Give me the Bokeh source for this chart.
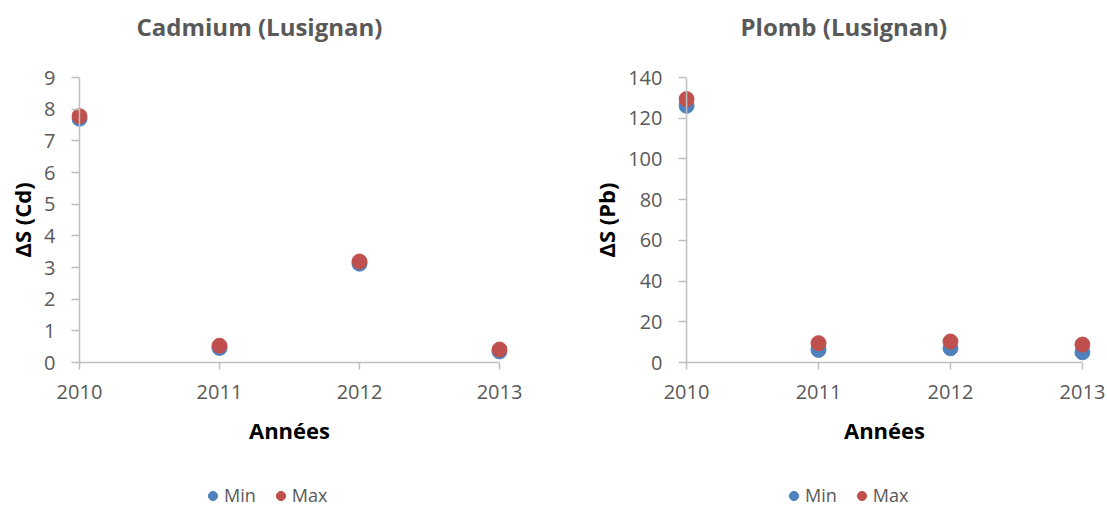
from bokeh.plotting import figure
from bokeh.models import Range1d, Legend, LegendItem, FixedTicker, Span
from bokeh.layouts import row, column
from bokeh.embed import file_html
from bokeh.resources import INLINE

# ---- data ----
years = [2010, 2011, 2012, 2013]
cd_min = [7.70, 0.46, 3.12, 0.35]
cd_max = [7.78, 0.53, 3.19, 0.41]
pb_min = [126.1, 6.2, 7.0, 5.0]
pb_max = [129.4, 9.5, 10.3, 8.8]
cd_ticks = [0, 1, 2, 3, 4, 5, 6, 7, 8, 9]
pb_ticks = [0, 20, 40, 60, 80, 100, 120, 140]
series_names = ["Min", "Max"]
titles = ["Cadmium (Lusignan)", "Plomb (Lusignan)"]
ylabels = ["ΔS (Cd)", "ΔS (Pb)"]
xlabel = "Années"

BLUE = "#4F81BD"
RED = "#C0504D"
GREY = "#595959"
AXIS = "#BFBFBF"
FONT = "Open Sans"
TITLE_H = 60
MAIN_H = 410
LEG_H = 38


def title_fig(width, text, xoff):
    q = figure(width=width, height=TITLE_H, output_backend="svg", toolbar_location=None,
               x_range=Range1d(0, 1), y_range=Range1d(0, 1), min_border=0,
               x_axis_location=None, y_axis_location=None, title=text)
    q.outline_line_color = None
    q.grid.visible = False
    t = q.title
    t.align = "left"
    t.offset = xoff
    t.standoff = 15
    t.text_font = FONT
    t.text_font_size = "24px"
    t.text_font_style = "bold"
    t.text_color = GREY
    return q


def make(ylabel, ymins, ymaxs, yticks, width, bl, br, xpad):
    p = figure(width=width, height=MAIN_H, output_backend="svg", toolbar_location=None,
               x_range=Range1d(years[0] - xpad, years[-1] + xpad),
               y_range=Range1d(yticks[0], yticks[-1]),
               min_border_left=bl, min_border_right=br,
               min_border_top=77 - TITLE_H, min_border_bottom=108)
    p.outline_line_color = None
    p.grid.visible = False

    xa = p.xaxis[0]
    xa.ticker = FixedTicker(ticks=years)
    xa.bounds = (years[0], years[-1])
    ya = p.yaxis[0]
    ya.ticker = FixedTicker(ticks=yticks)
    for ax in (xa, ya):
        ax.axis_line_color = AXIS
        ax.axis_line_width = 1.5
        ax.major_tick_line_color = AXIS
        ax.major_tick_line_width = 1.5
        ax.minor_tick_line_color = None
        ax.major_label_text_font = FONT
        ax.major_label_text_font_size = "20px"
        ax.major_label_text_color = GREY
        ax.axis_label_text_font = FONT
        ax.axis_label_text_font_size = "22px"
        ax.axis_label_text_font_style = "bold"
        ax.axis_label_text_color = "black"
    xa.major_tick_in = 0
    xa.major_tick_out = 7
    xa.axis_label = xlabel
    xa.major_label_standoff = 15
    xa.axis_label_standoff = 13
    # y axis: line drawn as a span through the first year, ticks reach inward to it
    ya.axis_line_color = None
    ya.major_tick_in = 8
    ya.major_tick_out = 0
    ya.axis_label = ylabel
    ya.major_label_standoff = 16
    ya.axis_label_standoff = 4
    p.add_layout(Span(location=years[0], dimension="height",
                      line_color=AXIS, line_width=1.5))

    p.scatter(years, ymins, size=15, color=BLUE, line_color=BLUE)
    p.scatter(years, ymaxs, size=15, color=RED, line_color=RED)
    return p


def legend_fig(width, legx, ymins, ymaxs):
    # the series are drawn here only to supply legend glyphs; the tiny
    # unit ranges keep the points themselves out of view
    q = figure(width=width, height=LEG_H, output_backend="svg", toolbar_location=None,
               x_range=Range1d(0, 1), y_range=Range1d(0, 1),
               min_border=0, x_axis_location=None, y_axis_location=None)
    q.outline_line_color = None
    q.grid.visible = False
    r1 = q.scatter(years, ymins, size=9, color=BLUE, line_color=BLUE)
    r2 = q.scatter(years, ymaxs, size=9, color=RED, line_color=RED)
    leg = Legend(items=[LegendItem(label=series_names[0], renderers=[r1]),
                        LegendItem(label=series_names[1], renderers=[r2])],
                 orientation="horizontal", location=(legx, 1),
                 glyph_width=23, glyph_height=23, label_standoff=0, spacing=13,
                 padding=0, margin=0, border_line_color=None,
                 background_fill_alpha=0,
                 label_text_font=FONT, label_text_font_size="18px",
                 label_text_color=GREY)
    q.add_layout(leg, "center")
    return q


W1, W2 = 550, 555
left = make(ylabels[0], cd_min, cd_max, cd_ticks, W1, 71, W1 - 507, 0.057)
right = make(ylabels[1], pb_min, pb_max, pb_ticks, W2, 678 - W1, W2 - (1090 - W1), 0.061)

layout = column(
    row(title_fig(W1, titles[0], 136), title_fig(W2, titles[1], 190)),
    row(left, right),
    row(legend_fig(W1, 201, cd_min, cd_max), legend_fig(W2, 232, pb_min, pb_max)),
)
open("out.html", "w").write(file_html(layout, INLINE))
